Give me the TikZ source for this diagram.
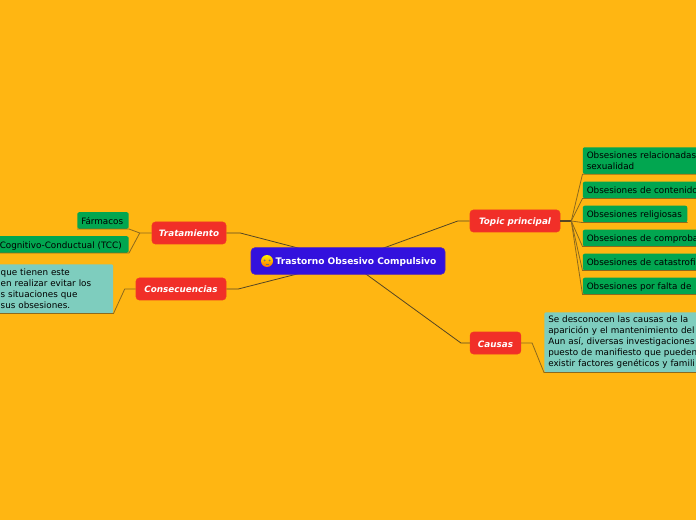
\documentclass[tikz,border=0pt]{standalone}
\usepackage{fontspec}
\setmainfont{DejaVu Sans}
\usepackage{xcolor}
\usetikzlibrary{calc,backgrounds,positioning}

\definecolor{bgorange}{RGB}{255,182,18}
\definecolor{mainblue}{RGB}{51,17,221}
\definecolor{topicred}{RGB}{241,47,40}
\definecolor{leafgreen}{RGB}{2,166,80}
\definecolor{noteteal}{RGB}{126,205,190}
\definecolor{linebrown}{RGB}{140,105,30}
\definecolor{linedark}{RGB}{85,70,35}

\tikzset{
  mainbox/.style={draw=mainblue!85!orange, line width=0.4pt, rounded corners=3pt, fill=mainblue, text=white, font=\fontsize{6.8}{8.4}\selectfont\bfseries, minimum width=145.5pt, minimum height=20pt, inner sep=0pt, text height=7.5pt, text depth=1.5pt},
  topicbox/.style={draw=topicred!90!orange, line width=0.4pt, rounded corners=2.5pt, fill=topicred, text=white, font=\fontsize{6.6}{8.4}\selectfont\bfseries\itshape, minimum height=16.5pt, inner sep=0pt, text height=7.5pt, text depth=1.5pt},
  leafbox/.style={rounded corners=1.5pt, fill=leafgreen, text=black, font=\fontsize{6.6}{8.3}\selectfont, minimum height=12.4pt, inner xsep=3pt, inner ysep=1pt, align=left},
  leafsingle/.style={leafbox, text height=7pt, text depth=1.5pt},
  notebox/.style={rounded corners=1.5pt, fill=noteteal, text=black, font=\fontsize{6.6}{8.25}\selectfont, inner xsep=3pt, inner ysep=1pt, align=left},
  mainline/.style={draw=linedark, line width=0.6pt},
  leafline/.style={draw=linebrown, line width=0.6pt},
}

\begin{document}
\begin{tikzpicture}[x=0.75pt, y=-0.75pt]
  \clip (0,0) rectangle (696,520);

  \node[mainbox] (main) at (348,261) {\hspace{12pt}Trastorno Obsesivo Compulsivo};
  \node[circle, top color=yellow!90!orange, bottom color=orange!90!red, minimum size=9pt, inner sep=0pt] (face) at (267,261) {};
  \fill[black!55] ($(face.center)+(-2.5,-0.5)$) circle (1) ($(face.center)+(2.5,-0.5)$) circle (1);
  \draw[black!55, line width=0.3pt] ($(face.center)+(-1.5,3)$) -- ($(face.center)+(1.5,3)$);

  \node[topicbox, minimum width=55.5pt] (trat) at (189,233) {Tratamiento};
  \node[topicbox, minimum width=67.5pt] (cons) at (181,289) {Consecuencias};
  \node[topicbox, minimum width=67.5pt] (topic) at (515,221) {Topic principal};
  \node[topicbox, minimum width=38pt] (causas) at (495.5,343) {Causas};

  \node[leafsingle, anchor=east, text width=32.6pt] (farm) at (129,220.5) {Fármacos};
  \node[leafsingle, anchor=east, text width=93.7pt] (tcc) at (129,244.5) {Cognitivo-Conductual (TCC)};
  \node[notebox, anchor=north east, text width=81.4pt, minimum height=36.7pt] (nota) at (113.5,264) {que tienen este\\en realizar evitar los\\s situaciones que\\sus obsesiones.\\[-1pt]};

  \node[leafbox, anchor=north west, text width=100pt, minimum height=20pt] (rel) at (582.5,147) {Obsesiones relacionadas\\sexualidad};
  \node[leafsingle, anchor=west, text width=100pt] (cont) at (582.5,190) {Obsesiones de contenido};
  \node[leafsingle, anchor=west, text width=72.4pt] (relig) at (582.5,214) {Obsesiones religiosas};
  \node[leafsingle, anchor=west, text width=100pt] (compro) at (582.5,238) {Obsesiones de comproba};
  \node[leafsingle, anchor=west, text width=100pt] (cata) at (582.5,262) {Obsesiones de catastrofi};
  \node[leafsingle, anchor=west, text width=100pt] (falta) at (582.5,286) {Obsesiones por falta de};
  \node[notebox, anchor=north west, text width=125pt, minimum height=45pt] (desc) at (544,312) {Se desconocen las causas de la\\aparición y el mantenimiento del\\Aun así, diversas investigaciones\\puesto de manifiesto que pueden\\existir factores genéticos y famili\\[-1pt]};

  \coordinate (hubtopic) at ($(topic.east)+(11,0)$);
  \coordinate (hubtrat) at ($(trat.west)+(-12,0)$);

  \begin{pgfonlayer}{background}
    \fill[bgorange] (0,0) rectangle (696,520);
    \draw[mainline] (main.center) -- ($(trat.east)+(14,0)$) -- (trat.east);
    \draw[mainline] (main.center) -- ($(cons.east)+(12,0)$) -- (cons.east);
    \draw[mainline] (main.center) -- ($(topic.west)+(-12,0)$) -- (topic.west);
    \draw[mainline] (main.center) -- ($(causas.west)+(-9,0)$) -- (causas.west);
  \end{pgfonlayer}

  % leaves, topic principal
  \draw[linedark, line width=0.9pt] (topic.east) -- (hubtopic);
  \foreach \leaf in {rel,cont,relig,compro,cata,falta}
    \draw[leafline] (hubtopic) -- (\leaf.south west) -- (\leaf.south east);

  % leaves, left side
  \draw[leafline] (trat.west) -- (hubtrat) -- (farm.south east) -- (farm.south west);
  \draw[leafline] (hubtrat) -- (tcc.south east) -- (tcc.south west);
  \draw[leafline] (cons.west) -- ($(cons.west)+(-11,0)$) -- (nota.south east) -- (nota.south west);
  \draw[leafline] (causas.east) -- ($(causas.east)+(11,0)$) -- (desc.south west) -- (desc.south east);
\end{tikzpicture}
\end{document}
